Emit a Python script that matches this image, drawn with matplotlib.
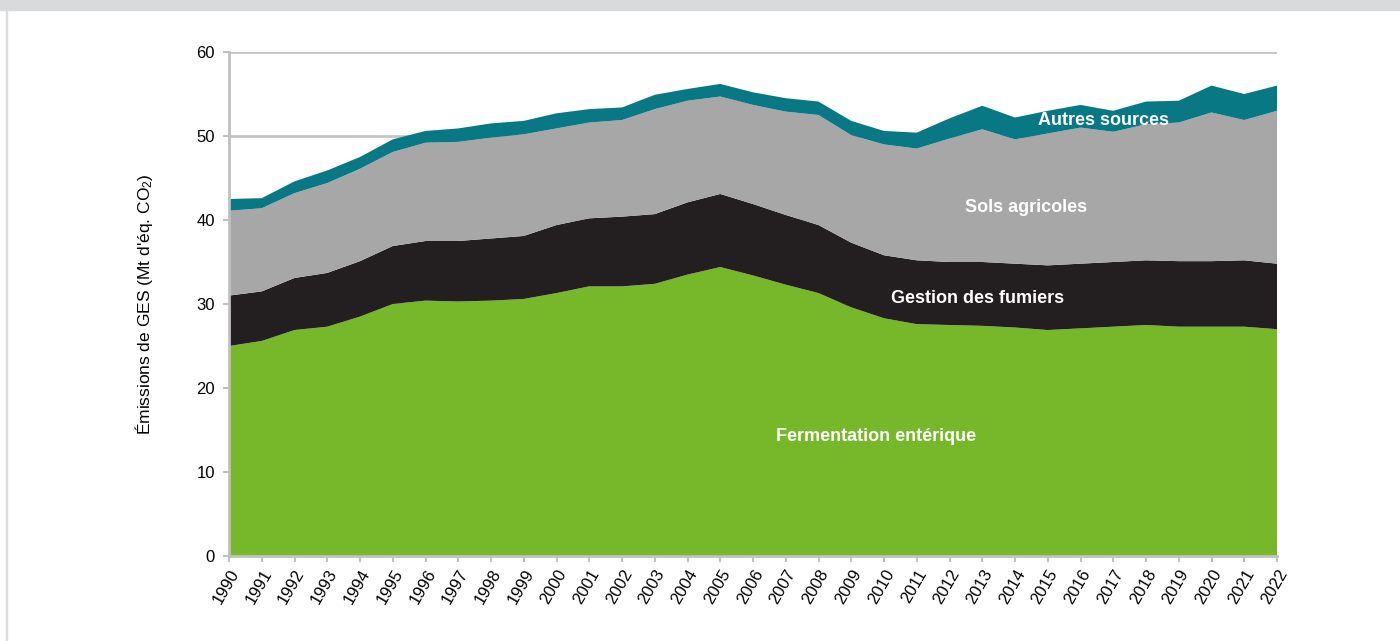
import matplotlib
matplotlib.use("Agg")
import matplotlib.pyplot as plt
import numpy as np
from matplotlib.patches import Rectangle

years = list(range(1990, 2023))

# Mt CO2 eq per source
fermentation = [25.0, 25.6, 26.9, 27.3, 28.5, 30.0, 30.4, 30.3, 30.4, 30.6,
                31.3, 32.1, 32.1, 32.4, 33.5, 34.4, 33.4, 32.3, 31.3, 29.6,
                28.3, 27.6, 27.5, 27.4, 27.2, 26.9, 27.1, 27.3, 27.5, 27.3,
                27.3, 27.3, 27.0]
fumiers = [6.0, 5.9, 6.2, 6.4, 6.6, 6.9, 7.1, 7.2, 7.4, 7.5,
           8.1, 8.1, 8.3, 8.3, 8.6, 8.7, 8.5, 8.3, 8.1, 7.7,
           7.5, 7.6, 7.5, 7.6, 7.6, 7.7, 7.7, 7.7, 7.7, 7.8,
           7.8, 7.9, 7.8]
sols = [10.1, 9.9, 10.1, 10.7, 11.0, 11.2, 11.7, 11.8, 12.0, 12.1,
        11.5, 11.4, 11.5, 12.5, 12.1, 11.6, 11.8, 12.3, 13.1, 12.8,
        13.2, 13.3, 14.7, 15.8, 14.8, 15.7, 16.2, 15.5, 16.2, 16.5,
        17.7, 16.7, 18.2]
autres = [1.4, 1.2, 1.4, 1.5, 1.4, 1.5, 1.4, 1.6, 1.7, 1.6,
          1.8, 1.6, 1.5, 1.7, 1.4, 1.5, 1.5, 1.6, 1.6, 1.7,
          1.6, 1.9, 2.4, 2.8, 2.6, 2.7, 2.7, 2.5, 2.7, 2.6,
          3.2, 3.1, 3.0]

labels = ["Fermentation entérique", "Gestion des fumiers", "Sols agricoles", "Autres sources"]
colors = ["#76b82a", "#231f20", "#a7a7a7", "#087984"]
label_pos = [(2009.76, 14.2), (2012.87, 30.6), (2014.34, 41.5), (2016.69, 51.9)]

plt.rcParams["font.family"] = ["Liberation Sans", "DejaVu Sans"]
plt.rcParams["mathtext.fontset"] = "custom"
plt.rcParams["mathtext.rm"] = "Liberation Sans"
plt.rcParams["mathtext.it"] = "Liberation Sans"

fig = plt.figure(figsize=(14, 6.41), dpi=100)
fig.patches.append(Rectangle((0, 1 - 10 / 641), 1, 10 / 641, transform=fig.transFigure,
                             color="#d9dadc", zorder=0))
fig.patches.append(Rectangle((6 / 1400, 0), 1.2 / 1400, 1 - 10 / 641, transform=fig.transFigure,
                             color="#dcdcdc", zorder=0))

ax = fig.add_axes([229 / 1400, 85 / 641, 1048 / 1400, 504 / 641])
ax.stackplot(years, fermentation, fumiers, sols, autres, colors=colors,
             linewidth=0, zorder=2)

ax.set_xlim(1990, 2022)
ax.set_ylim(0, 60)
ax.set_yticks(np.arange(0, 61, 10))
ax.set_xticks(years)
ax.set_xticklabels([str(y) for y in years], rotation=60, ha="right",
                   rotation_mode="anchor", fontsize=12)
ax.tick_params(axis="y", labelsize=12, length=4, width=1.5, color="#c0c0c0", pad=6)
ax.tick_params(axis="x", length=4, width=1.5, color="#c0c0c0", pad=4)
ax.yaxis.grid(True, color="#c4c4c4", linewidth=2, zorder=0)
ax.set_axisbelow(True)
for side in ("top", "right"):
    ax.spines[side].set_visible(False)
for side in ("left", "bottom"):
    ax.spines[side].set_color("#c0c0c0")
    ax.spines[side].set_linewidth(2)

ax.set_ylabel("Émissions de GES (Mt d'éq. CO$_2$)", fontsize=12.5, labelpad=30)

for text, (x, y) in zip(labels, label_pos):
    ax.text(x, y, text, color="white", fontsize=13, fontweight="bold",
            ha="center", va="center", zorder=5)

fig.savefig("out.png", dpi=100)
